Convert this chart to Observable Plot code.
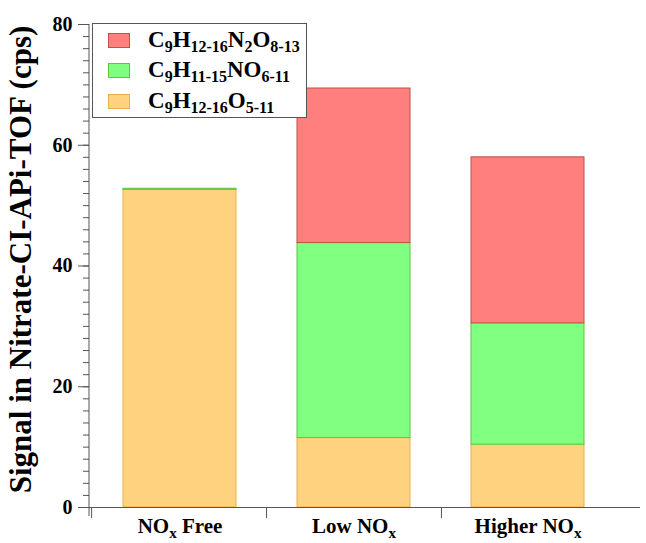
<!DOCTYPE html>
<html>
<head>
<meta charset="utf-8">
<script src="https://cdn.jsdelivr.net/npm/d3@7"></script>
<script src="https://cdn.jsdelivr.net/npm/@observablehq/plot@0.6"></script>
<style>
  body { margin: 0; background: #fff; }
  #chart { position: relative; width: 646px; height: 543px; font-family: "Liberation Serif", "Times New Roman", serif; }
  #chart svg { display: block; }
  .legend { position: absolute; left: 92px; top: 23px; width: 215px; height: 95px; box-sizing: border-box;
            border: 1px solid #555; background: #fff; font-weight: bold; font-size: 23px; color: #000; }
  .legend .row { position: absolute; left: 0; height: 30px; display: flex; align-items: center; }
  .legend .sw { position: absolute; left: 15px; width: 22px; height: 15px; box-sizing: border-box; border: 1px solid; }
  .legend .lab { position: absolute; left: 55px; white-space: nowrap; line-height: 30px; }
  .legend sub { font-size: 16px; vertical-align: -5px; line-height: 0; }
</style>
</head>
<body>
<div id="chart"></div>
<script>
// Signal by formula class under three NOx regimes
const categories = ["NOx Free", "Low NOx", "Higher NOx"];
const seriesNames = ["C9H12-16O5-11", "C9H11-15NO6-11", "C9H12-16N2O8-13"]; // bottom to top
const fillColors = ["#FFD27F", "#80FF80", "#FF7F7F"];
const strokeColors = ["#E8B04C", "#5CC83A", "#C0504A"];
const organicValues = [52.6, 11.5, 10.4];      // C9H12-16O5-11
const mononitrateValues = [0.2, 32.3, 20.1];   // C9H11-15NO6-11
const dinitrateValues = [0.0, 25.6, 27.5];     // C9H12-16N2O8-13
const yMajorTicks = [0, 20, 40, 60, 80];
const yMinorTicks = d3.range(0, 81, 2);
const yLabel = "Signal in Nitrate-CI-APi-TOF (cps)";

const seriesValues = [organicValues, mononitrateValues, dinitrateValues];
const rows = [];
categories.forEach((c, i) => {
  seriesNames.forEach((s, j) => {
    rows.push({category: c, series: s, value: seriesValues[j][i], fill: fillColors[j], stroke: strokeColors[j]});
  });
});

const font = "'Liberation Serif', 'Times New Roman', serif";
const axisColor = "#555";

const plot = Plot.plot({
  width: 646,
  height: 543,
  marginLeft: 89,
  marginRight: 6,
  marginTop: 24,
  marginBottom: 36,
  style: {fontFamily: font, fontSize: "20px", background: "#fff", color: "#000"},
  x: {domain: categories, paddingInner: 0.35, paddingOuter: 0.25, align: 0.38, axis: null, label: null},
  y: {domain: [0, 80], axis: null, label: null},
  color: {type: "identity"},
  marks: [
    Plot.barY(rows, {x: "category", y: "value", fill: "fill", stroke: "stroke", strokeWidth: 1}),
    Plot.ruleY([0], {stroke: axisColor, strokeWidth: 1}),
    Plot.axisY(yMinorTicks, {tickSize: 6, tickFormat: () => "", stroke: axisColor, label: null}),
    Plot.axisY(yMajorTicks, {tickSize: 11, tickPadding: 6, stroke: axisColor, fill: "#000",
                             fontWeight: "bold", fontSize: 20, label: null}),
    Plot.axisX({tickSize: 0, tickPadding: 11, fontWeight: "bold", fontSize: 21, fill: "#000", label: null})
  ]
});

// Rebuild scales to draw the axis line, the category separators and the rotated label
const xs = plot.scale("x"), ys = plot.scale("y");
const bx = d3.scaleBand(xs.domain, xs.range).paddingInner(xs.paddingInner).paddingOuter(xs.paddingOuter).align(xs.align);
const ly = d3.scaleLinear(ys.domain, ys.range);
const svg = d3.select(plot);
const left = xs.range[0];
svg.append("line")
  .attr("x1", left).attr("x2", left)
  .attr("y1", ly(80)).attr("y2", ly(0) + 9)
  .attr("stroke", axisColor);
svg.append("g").selectAll("line").data(categories).join("line")
  .attr("x1", c => bx(c) - bx.step() * xs.paddingInner / 2)
  .attr("x2", c => bx(c) - bx.step() * xs.paddingInner / 2)
  .attr("y1", ly(0)).attr("y2", ly(0) + 11)
  .attr("stroke", axisColor);
svg.append("text")
  .attr("transform", `translate(${left - 58},${(ly(80) + ly(0)) / 2 - 6}) rotate(-90)`)
  .attr("text-anchor", "middle")
  .attr("font-family", font)
  .attr("font-weight", "bold")
  .attr("font-size", 31)
  .attr("fill", "#000")
  .text(yLabel);

// Subscript the x in NOx on the category labels
plot.querySelectorAll('g[aria-label="x-axis tick label"] text').forEach(t => {
  const label = t.textContent;
  const k = label.indexOf("NOx");
  if (k < 0) return;
  t.textContent = "";
  const parts = [[label.slice(0, k) + "NO", 0], ["x", 1], [label.slice(k + 3), 2]];
  parts.forEach(([s, kind]) => {
    if (!s) return;
    const ts = document.createElementNS("http://www.w3.org/2000/svg", "tspan");
    ts.textContent = s;
    if (kind === 1) { ts.setAttribute("dy", "5"); ts.setAttribute("font-size", "15"); }
    if (kind === 2) { ts.setAttribute("dy", "-5"); }
    t.appendChild(ts);
  });
});

const chart = document.getElementById("chart");
chart.appendChild(plot);

// Legend: top series first
const legend = document.createElement("div");
legend.className = "legend";
const formula = s => s.replace(/([A-Z][a-z]?)([\d-]+)/g, "$1<sub>$2</sub>");
const legendTops = [1, 31, 62];
[2, 1, 0].forEach((j, r) => {
  const row = document.createElement("div");
  row.className = "row";
  row.style.top = legendTops[r] + "px";
  row.innerHTML = `<span class="sw" style="background:${fillColors[j]};border-color:${strokeColors[j]}"></span>` +
                  `<span class="lab">${formula(seriesNames[j])}</span>`;
  legend.appendChild(row);
});
chart.appendChild(legend);
</script>
</body>
</html>
